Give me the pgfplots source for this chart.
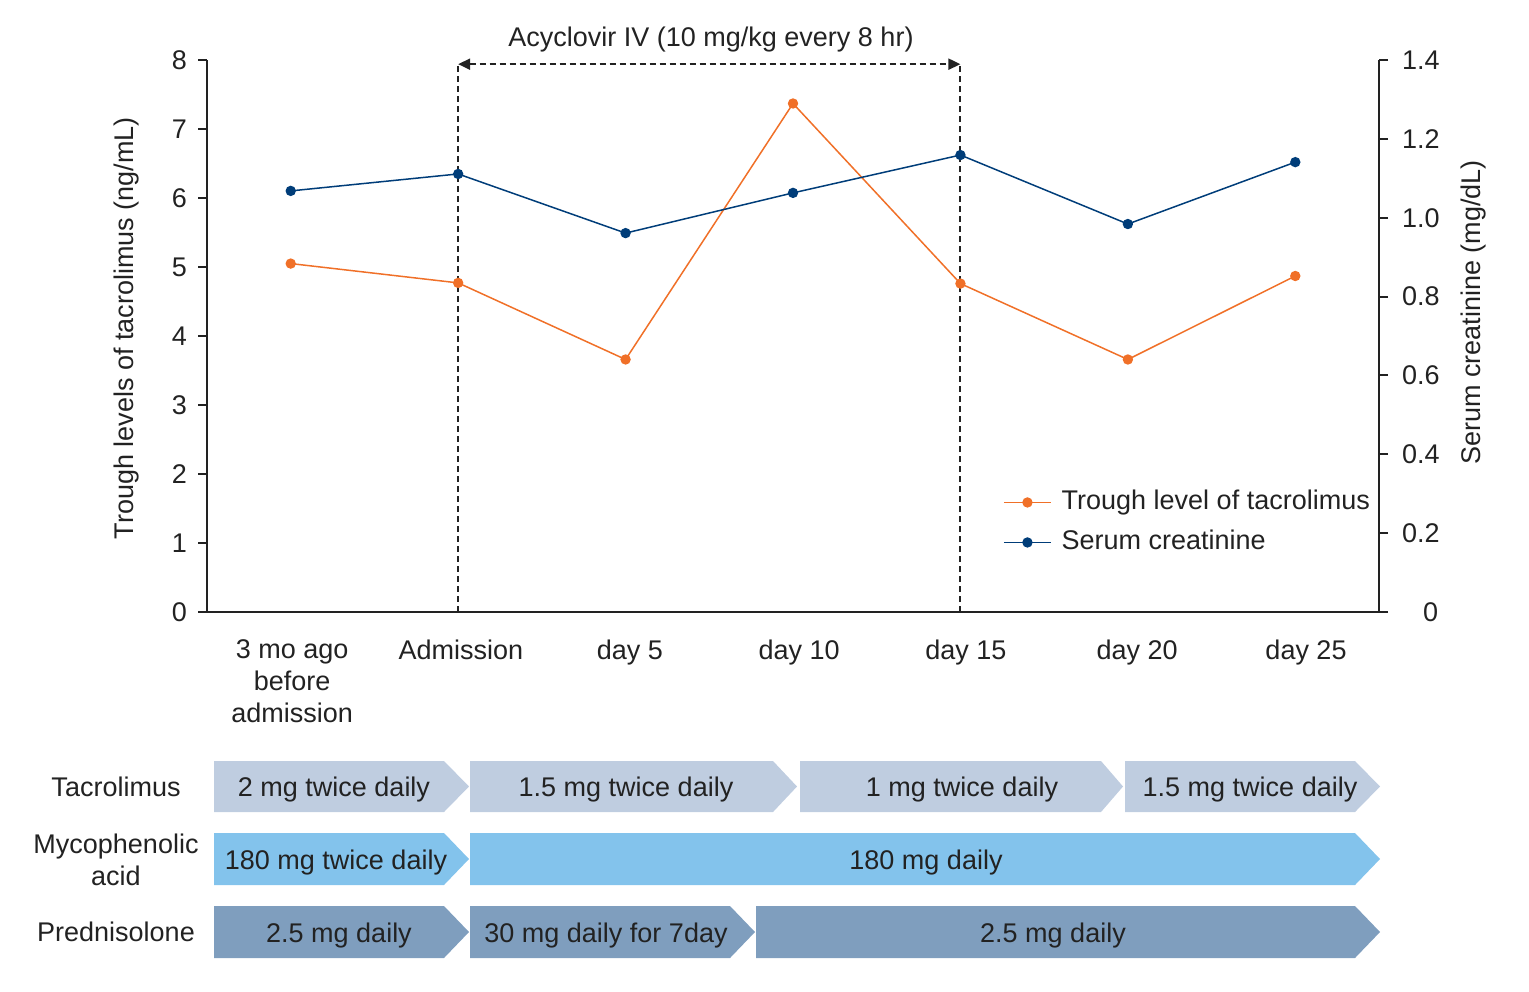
\documentclass[border=0pt]{standalone}
\usepackage{pgfplots}
\pgfplotsset{compat=1.18}
\usepackage{fontspec}
\setmainfont{Liberation Sans}
\usetikzlibrary{arrows.meta}
\definecolor{tacro}{RGB}{240,112,40}
\definecolor{creat}{RGB}{0,61,121}
\definecolor{axc}{RGB}{34,34,34}
\definecolor{rowA}{RGB}{191,205,224}
\definecolor{rowB}{RGB}{131,195,236}
\definecolor{rowC}{RGB}{127,158,190}
\newcommand{\fs}{\fontsize{13.5}{16}\selectfont}
\begin{document}
\begin{tikzpicture}[font=\fs, text=axc]
\useasboundingbox (0,0) rectangle (764.5pt,-495.5pt);
\pgfplotsset{
  common/.style={
    scale only axis, width=586pt, height=276pt,
    at={(103.5pt,-306pt)}, anchor=south west,
    xmin=-0.5, xmax=6.5,
    axis line style={axc, line width=1pt},
    tick style={axc, line width=1pt},
    major tick length=4.5pt,
    tick align=outside,
    /pgf/number format/assume math mode=true,
    ticklabel style={font=\fs, text=axc},
    label style={font=\fs, text=axc},
    clip=false,
  },
  legend image code/.code={\draw[mark repeat=2,mark phase=2,#1] plot coordinates {(0pt,0pt) (11.75pt,0pt) (23.5pt,0pt)};},
}
\begin{axis}[common,
  axis x line*=bottom, axis y line*=left,
  ymin=0, ymax=8, ytick={0,1,...,8},
  xtick={0.008,1.017,2.026,3.036,4.033,5.055,6.064},
  xticklabels={3 mo ago\\before\\admission, Admission, day 5, day 10, day 15, day 20, day 25},
  xticklabel style={align=center, yshift=-6pt},
  x tick style={draw=none},
  yticklabel style={xshift=-2pt},
  ylabel={Trough levels of tacrolimus (ng/mL)},
  ylabel style={at={(rel axis cs:-0.0683,0.514)}, anchor=center},
]
\addplot[tacro, line width=0.75pt, mark=*, mark size=2.2pt, mark options={solid}]
  coordinates {(0,5.05) (1,4.77) (2,3.66) (3,7.37) (4,4.76) (5,3.66) (6,4.87)};
\draw[axc, line width=1pt, dash pattern=on 3pt off 2pt] (axis cs:1,0) -- (axis cs:1,7.94);
\draw[axc, line width=1pt, dash pattern=on 3pt off 2pt] (axis cs:4,0) -- (axis cs:4,7.94);
\draw[axc, line width=1pt, dash pattern=on 3pt off 2pt, {Stealth[length=6pt,width=5.5pt,inset=0pt]}-{Stealth[length=6pt,width=5.5pt,inset=0pt]}] (axis cs:1,7.94) -- (axis cs:4,7.94);
\node[anchor=base] at (axis cs:2.51,8.19) {Acyclovir IV (10 mg/kg every 8 hr)};
\end{axis}
\begin{axis}[common,
  axis x line=none, axis y line*=right,
  ymin=0, ymax=1.4, ytick={0,0.2,0.4,0.6,0.8,1.0,1.2,1.4},
  yticklabels={0,0.2,0.4,0.6,0.8,1.0,1.2,1.4},
  yticklabel style={text width=18pt, align=right, xshift=3.5pt},
  ylabel={Serum creatinine (mg/dL)},
  ylabel style={at={(rel axis cs:1.081,0.543)}, anchor=center},
  legend style={at={(rel axis cs:0.679,0.230)}, anchor=north west, draw=none, fill=none,
    inner sep=0pt, row sep=3pt, font=\fs,
    nodes={inner sep=2pt, text height=10pt, text depth=3pt},
    /tikz/every odd column/.append style={column sep=3pt}},
  legend cell align=left,
]
\addlegendimage{tacro, line width=0.75pt, mark=*, mark size=2.2pt}
\addlegendentry{Trough level of tacrolimus}
\addplot[creat, line width=0.75pt, mark=*, mark size=2.2pt]
  coordinates {(0,1.068) (1,1.111) (2,0.961) (3,1.063) (4,1.159) (5,0.984) (6,1.141)};
\addlegendentry{Serum creatinine}
\end{axis}
\begin{scope}[x=0.5pt,y=-0.5pt]
  % row 1: Tacrolimus
  \fill[rowA] (214,761) -- (444,761) -- (469,786.5) -- (444,812) -- (214,812) -- cycle;
  \fill[rowA] (470,761) -- (773,761) -- (797,786.5) -- (773,812) -- (470,812) -- cycle;
  \fill[rowA] (800,761) -- (1101,761) -- (1123,786.5) -- (1101,812) -- (800,812) -- cycle;
  \fill[rowA] (1125,761) -- (1355,761) -- (1380,786.5) -- (1355,812) -- (1125,812) -- cycle;
  % row 2: Mycophenolic acid
  \fill[rowB] (214,833) -- (444,833) -- (469,859) -- (444,885) -- (214,885) -- cycle;
  \fill[rowB] (470,833) -- (1355,833) -- (1380,859) -- (1355,885) -- (470,885) -- cycle;
  % row 3: Prednisolone
  \fill[rowC] (214,906) -- (444,906) -- (469,932) -- (444,958) -- (214,958) -- cycle;
  \fill[rowC] (470,906) -- (730,906) -- (755,932) -- (730,958) -- (470,958) -- cycle;
  \fill[rowC] (756,906) -- (1355,906) -- (1380,932) -- (1355,958) -- (756,958) -- cycle;
  % texts
  \node[anchor=base] at (334,796) {2 mg twice daily};
  \node[anchor=base] at (626,796) {1.5 mg twice daily};
  \node[anchor=base] at (962,796) {1 mg twice daily};
  \node[anchor=base] at (1250,796) {1.5 mg twice daily};
  \node[anchor=base] at (336,869) {180 mg twice daily};
  \node[anchor=base] at (926,869) {180 mg daily};
  \node[anchor=base] at (339,942) {2.5 mg daily};
  \node[anchor=base] at (606,942) {30 mg daily for 7day};
  \node[anchor=base] at (1053,942) {2.5 mg daily};
  % row labels
  \node[anchor=base] at (116,796) {Tacrolimus};
  \node[anchor=base] at (116,853) {Mycophenolic};
  \node[anchor=base] at (116,885) {acid};
  \node[anchor=base] at (116,941) {Prednisolone};
\end{scope}
\end{tikzpicture}
\end{document}
